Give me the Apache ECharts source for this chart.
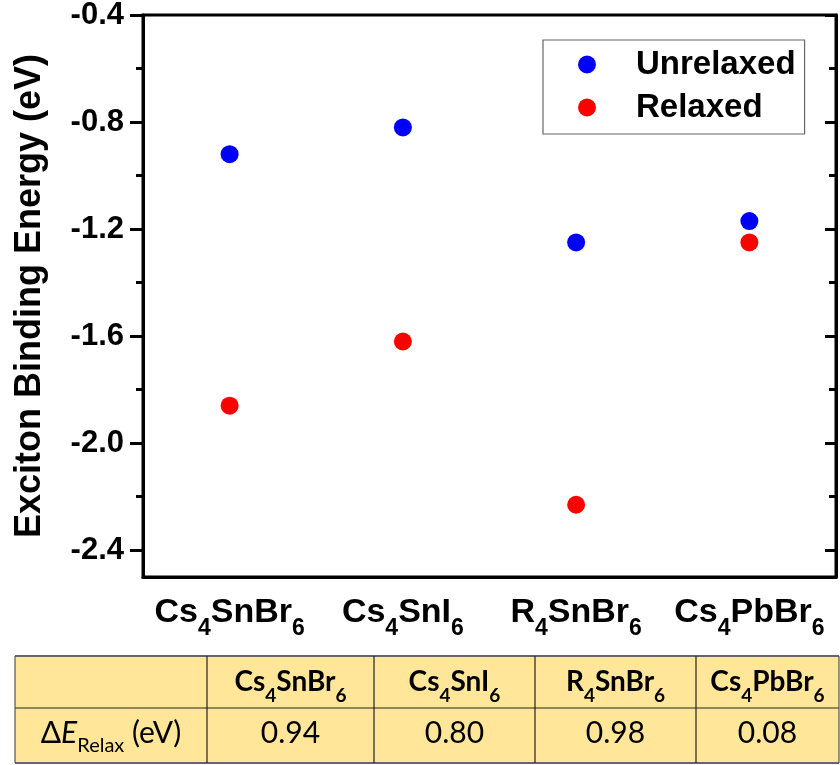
<!DOCTYPE html>
<html><head><meta charset="utf-8">
<script src="https://cdn.jsdelivr.net/npm/echarts@6/dist/echarts.min.js"></script>
<style>html,body{margin:0;padding:0;background:#fff}#c{width:840px;height:765px}</style>
</head><body><div id="c"></div>
<script>
// ---- data ----
const categories = ['Cs4SnBr6', 'Cs4SnI6', 'R4SnBr6', 'Cs4PbBr6'];
const seriesNames = ['Unrelaxed', 'Relaxed'];
const unrelaxed = [-0.92, -0.82, -1.25, -1.17];
const relaxed = [-1.86, -1.62, -2.23, -1.25];
const deltaRelax = [0.94, 0.80, 0.98, 0.08];
const majorTicks = [-0.4, -0.8, -1.2, -1.6, -2.0, -2.4];
const minorTicks = [-0.6, -1.0, -1.4, -1.8, -2.2];
const yName = 'Exciton Binding Energy (eV)';
const yMin = -2.5, yMax = -0.4;

// ---- helpers ----
function toRich(s, m, sub) {
  return s.replace(/(\d+)|([^\d]+)/g, (x, d, t) => d ? '{' + sub + '|' + d + '}' : '{' + m + '|' + t + '}');
}
const FONT = '"Liberation Sans", Arial, sans-serif';
const TFONT = 'Lato, "Open Sans", sans-serif';
const BLACK = '#000';

const chart = echarts.init(document.getElementById('c'), null, {renderer: 'canvas'});

// ---- table graphic ----
const colEdges = [15, 207, 374, 535, 696, 839];
const rowEdges = [656, 708, 763];
const tableEls = [];
tableEls.push({type: 'rect', shape: {x: colEdges[0], y: rowEdges[0], width: colEdges[5] - colEdges[0], height: rowEdges[2] - rowEdges[0]},
  style: {fill: '#FFE699', stroke: null}, z: 1});
rowEdges.forEach((y, i) => tableEls.push({type: 'line', shape: {x1: colEdges[0], y1: y, x2: colEdges[5], y2: y},
  style: {stroke: i === 1 ? '#222' : '#666', lineWidth: i === 1 ? 1.2 : 2}, z: 2}));
colEdges.forEach((x, i) => tableEls.push({type: 'line', shape: {x1: x, y1: rowEdges[0], x2: x, y2: rowEdges[2]},
  style: {stroke: (i === 0 || i === 5) ? '#555' : '#222', lineWidth: 1.2}, z: 2}));
const tRich = {
  hm: {fontFamily: TFONT, fontWeight: 'bold', fontSize: 28, lineHeight: 32, verticalAlign: 'top', fill: BLACK},
  hs: {fontFamily: TFONT, fontWeight: 'bold', fontSize: 19, lineHeight: 19, padding: [18, 0, 0, 0], verticalAlign: 'top', fill: BLACK},
  m: {fontFamily: TFONT, fontSize: 30, lineHeight: 34, verticalAlign: 'top', fill: BLACK},
  i: {fontFamily: TFONT, fontSize: 30, fontStyle: 'italic', lineHeight: 34, verticalAlign: 'top', fill: BLACK},
  s: {fontFamily: TFONT, fontSize: 20, lineHeight: 20, padding: [18, 0, 0, 0], verticalAlign: 'top', fill: BLACK}
};
categories.forEach((c, i) => {
  const cx = (colEdges[i + 1] + colEdges[i + 2]) / 2;
  tableEls.push({type: 'text', x: cx, y: 668, z: 3,
    style: {text: toRich(c, 'hm', 'hs'), rich: tRich, align: 'center', verticalAlign: 'top'}});
  tableEls.push({type: 'text', x: cx, y: 718, z: 3,
    style: {text: '{m|' + deltaRelax[i].toFixed(2) + '}', rich: tRich, align: 'center', verticalAlign: 'top'}});
});
tableEls.push({type: 'text', x: (colEdges[0] + colEdges[1]) / 2, y: 718, z: 3,
  style: {text: '{m|Δ}{i|E}{s|Relax}{m| (eV)}', rich: tRich, align: 'center', verticalAlign: 'top'}});

const xRich = {
  m: {fontFamily: FONT, fontWeight: 'bold', fontSize: 34, lineHeight: 37, verticalAlign: 'top', color: BLACK},
  s: {fontFamily: FONT, fontWeight: 'bold', fontSize: 23, lineHeight: 23, padding: [21, 0, 0, 0], verticalAlign: 'top', color: BLACK}
};

const lineStyle = {color: BLACK, width: 3};
const option = {
  backgroundColor: '#fff',
  animation: false,
  grid: {left: 143, top: 15, right: 4, bottom: 188, show: true, borderColor: BLACK, borderWidth: 3,
    containLabel: false, outerBoundsMode: 'none'},
  legend: {
    data: seriesNames, orient: 'vertical', left: 543, top: 40,
    borderColor: '#666', borderWidth: 1.2, padding: [8, 9, 10, 35],
    itemWidth: 18, itemHeight: 18, itemGap: 10, icon: 'circle',
    textStyle: {fontFamily: FONT, fontWeight: 'bold', fontSize: 33, color: BLACK, padding: [0, 0, 0, 35]}
  },
  xAxis: [{
    type: 'category', data: categories, boundaryGap: true,
    axisLine: {show: true, lineStyle: lineStyle}, axisTick: {show: false},
    splitLine: {show: false},
    axisLabel: {interval: 0, margin: 19, formatter: v => toRich(v, 'm', 's'), rich: xRich}
  }],
  yAxis: [{
    type: 'value', min: yMin, max: yMax, position: 'left',
    name: yName, nameLocation: 'middle', nameGap: 95,
    nameTextStyle: {fontFamily: FONT, fontWeight: 'bold', fontSize: 36, color: BLACK},
    axisLine: {show: true, lineStyle: lineStyle},
    axisTick: {show: true, customValues: majorTicks, length: 13, lineStyle: lineStyle},
    axisLabel: {customValues: majorTicks, margin: 19, formatter: v => v.toFixed(1),
      fontFamily: FONT, fontWeight: 'bold', fontSize: 31, color: BLACK},
    splitLine: {show: false}
  }, {
    type: 'value', min: yMin, max: yMax, position: 'left',
    axisLine: {show: false},
    axisTick: {show: true, customValues: minorTicks, length: 7, lineStyle: lineStyle},
    axisLabel: {show: false}, splitLine: {show: false}
  }, {
    type: 'value', min: yMin, max: yMax, position: 'right',
    axisLine: {show: true, lineStyle: lineStyle},
    axisTick: {show: true, inside: true, customValues: majorTicks, length: 11, lineStyle: lineStyle},
    axisLabel: {show: false}, splitLine: {show: false}
  }, {
    type: 'value', min: yMin, max: yMax, position: 'right',
    axisLine: {show: false},
    axisTick: {show: true, inside: true, customValues: minorTicks, length: 7, lineStyle: lineStyle},
    axisLabel: {show: false}, splitLine: {show: false}
  }],
  series: [{
    name: seriesNames[0], type: 'scatter', data: unrelaxed, yAxisIndex: 0,
    symbol: 'circle', symbolSize: 18, itemStyle: {color: '#0000FF', opacity: 1}
  }, {
    name: seriesNames[1], type: 'scatter', data: relaxed, yAxisIndex: 0,
    symbol: 'circle', symbolSize: 18, itemStyle: {color: '#FF0000', opacity: 1}
  }],
  graphic: tableEls
};
chart.setOption(option);
</script></body></html>
